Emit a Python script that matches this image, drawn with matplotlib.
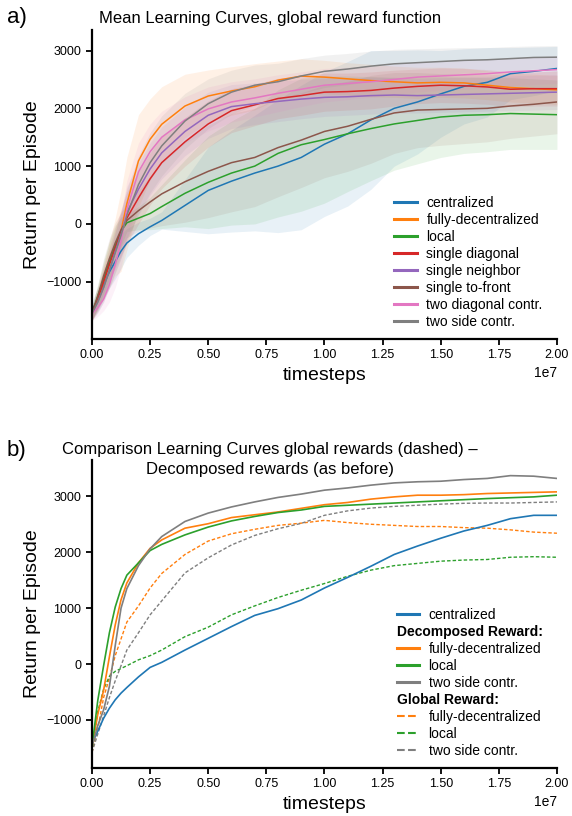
import numpy as np
import matplotlib
matplotlib.use("Agg")
import matplotlib.pyplot as plt
from matplotlib.lines import Line2D

plt.rcParams["font.family"] = ["Liberation Sans", "DejaVu Sans"]

# timesteps (in units of 1e7)
t = [0, 0.025, 0.05, 0.075, 0.1, 0.125, 0.15, 0.2, 0.25, 0.3, 0.4, 0.5, 0.6, 0.7,
     0.8, 0.9, 1.0, 1.1, 1.2, 1.3, 1.4, 1.5, 1.6, 1.7, 1.8, 1.9, 2.0]

# ---- a) mean learning curves, global reward function ----
names_a = ["centralized", "fully-decentralized", "local", "single diagonal",
           "single neighbor", "single to-front", "two diagonal contr.", "two side contr."]

centralized = [-1500, -1300, -1050, -830, -650, -470, -330, -170, -50, 60, 320, 580, 740, 880,
               1000, 1150, 1380, 1560, 1800, 2000, 2110, 2250, 2380, 2450, 2600, 2640, 2690]
fully_dec = [-1550, -1300, -1000, -700, -400, -120, 350, 1090, 1465, 1724, 2040, 2213, 2300, 2373,
             2488, 2557, 2540, 2510, 2480, 2460, 2440, 2450, 2440, 2400, 2360, 2340, 2320]
local = [-1550, -1250, -950, -650, -380, -130, 20, 100, 180, 300, 530, 720, 880, 1000,
         1220, 1370, 1460, 1560, 1650, 1730, 1790, 1850, 1880, 1890, 1910, 1900, 1890]
single_diag = [-1550, -1300, -1000, -700, -420, -150, 100, 450, 780, 1060, 1420, 1730, 1960, 2060,
               2170, 2220, 2280, 2290, 2310, 2350, 2380, 2400, 2390, 2370, 2330, 2340, 2340]
single_neigh = [-1550, -1350, -1100, -800, -480, -180, 200, 600, 950, 1230, 1600, 1880, 2030, 2080,
                2120, 2160, 2190, 2200, 2220, 2230, 2220, 2230, 2240, 2250, 2260, 2270, 2280]
single_front = [-1550, -1250, -900, -600, -330, -100, 60, 230, 380, 520, 730, 910, 1060, 1150,
                1320, 1450, 1600, 1690, 1810, 1920, 1970, 1980, 1990, 2000, 2040, 2070, 2110]
two_diag = [-1550, -1450, -1300, -1050, -700, -300, 250, 900, 1250, 1500, 1800, 1990, 2110, 2180,
            2260, 2330, 2400, 2430, 2460, 2500, 2540, 2560, 2580, 2600, 2630, 2650, 2670]
two_side = [-1550, -1350, -1100, -800, -500, -200, 150, 680, 1060, 1350, 1780, 2080, 2280, 2400,
            2460, 2560, 2640, 2680, 2730, 2770, 2790, 2810, 2830, 2840, 2860, 2880, 2885]

# standard deviation bands
centralized_sd = [150, 200, 250, 280, 300, 300, 250, 200, 150, 150, 450, 750, 880, 1000,
                  1150, 1250, 1250, 1250, 1200, 1000, 900, 750, 650, 600, 450, 420, 380]
fully_dec_sd = [120, 200, 300, 400, 500, 700, 800, 800, 700, 650, 550, 450, 420, 400,
                330, 300, 290, 280, 280, 270, 270, 260, 260, 250, 250, 250, 250]
local_sd = [120, 200, 300, 350, 350, 250, 150, 200, 280, 380, 580, 800, 900, 1000,
            1100, 1150, 1100, 1000, 900, 800, 750, 700, 660, 640, 620, 610, 600]
single_diag_sd = [120, 180, 250, 300, 350, 400, 450, 450, 450, 450, 420, 400, 380, 360,
                  350, 340, 330, 320, 320, 310, 300, 300, 300, 300, 300, 300, 300]
single_neigh_sd = [120, 180, 250, 300, 350, 400, 450, 450, 450, 450, 420, 400, 380, 360,
                   350, 340, 330, 320, 320, 310, 300, 300, 300, 300, 300, 300, 300]
single_front_sd = [120, 200, 300, 350, 350, 300, 300, 350, 450, 550, 700, 800, 850, 850,
                   850, 820, 800, 780, 760, 700, 650, 620, 600, 580, 560, 550, 550]
two_diag_sd = [120, 150, 200, 300, 400, 450, 500, 500, 480, 450, 400, 380, 350, 330,
               320, 300, 290, 280, 270, 260, 260, 250, 250, 250, 240, 240, 240]
two_side_sd = [120, 180, 250, 300, 350, 400, 450, 500, 520, 520, 480, 430, 380, 350,
               320, 300, 280, 270, 260, 250, 240, 230, 220, 210, 210, 200, 200]

# ---- b) global (dashed) vs decomposed (solid) rewards ----
centralized_b = [-1420, -1200, -970, -790, -640, -520, -420, -230, -60, 30, 250, 460, 670, 870,
                 990, 1145, 1360, 1550, 1750, 1960, 2110, 2250, 2380, 2480, 2600, 2660, 2660]
fully_dec_dec = [-1480, -900, -470, 130, 700, 1150, 1450, 1810, 2070, 2220, 2430, 2510, 2620, 2670,
                 2720, 2785, 2850, 2890, 2950, 2990, 3020, 3020, 3030, 3050, 3060, 3070, 3080]
local_dec = [-1480, -650, -30, 560, 1020, 1350, 1590, 1810, 2030, 2140, 2310, 2450, 2560, 2640,
             2710, 2755, 2820, 2840, 2860, 2880, 2900, 2920, 2940, 2960, 2975, 2990, 3020]
two_side_dec = [-1480, -1100, -820, -400, 330, 1000, 1350, 1760, 2060, 2280, 2550, 2700, 2810, 2900,
                2980, 3040, 3110, 3150, 3200, 3240, 3260, 3270, 3300, 3320, 3370, 3360, 3320]
fully_dec_glob = [-1580, -1150, -600, -250, 150, 450, 750, 1040, 1360, 1620, 1960, 2200, 2330, 2410,
                  2480, 2520, 2570, 2530, 2500, 2480, 2460, 2460, 2440, 2430, 2400, 2360, 2340]
local_glob = [-1580, -850, -450, -220, -130, -80, -30, 75, 150, 250, 490, 660, 880, 1040,
              1190, 1320, 1440, 1570, 1680, 1760, 1800, 1840, 1860, 1870, 1910, 1920, 1910]
two_side_glob = [-1580, -1250, -930, -600, -300, -30, 250, 560, 880, 1130, 1630, 1900, 2130, 2300,
                 2420, 2516, 2660, 2740, 2790, 2820, 2840, 2860, 2875, 2880, 2880, 2890, 2900]

colors = ["#1f77b4", "#ff7f0e", "#2ca02c", "#d62728", "#9467bd", "#8c564b", "#e377c2", "#7f7f7f"]

steps = np.array(t) * 1e7

fig = plt.figure(figsize=(5.72, 8.16), dpi=100)
ax_a = fig.add_axes([0.1608, 0.5846, 0.8129, 0.3787])
ax_b = fig.add_axes([0.1608, 0.0588, 0.8129, 0.3775])


def style_axes(ax):
    for s in ["top", "right"]:
        ax.spines[s].set_visible(False)
    for s in ["left", "bottom"]:
        ax.spines[s].set_linewidth(1.6)
    ax.tick_params(direction="out", length=4, width=1.3, labelsize=9)
    ax.set_xlim(0, 2e7)
    ax.set_xlabel("timesteps", fontsize=14)
    ax.set_ylabel("Return per Episode", fontsize=14)


# a)
means = [centralized, fully_dec, local, single_diag, single_neigh, single_front, two_diag, two_side]
sds = [centralized_sd, fully_dec_sd, local_sd, single_diag_sd, single_neigh_sd, single_front_sd,
       two_diag_sd, two_side_sd]
for name, m, s, c in zip(names_a, means, sds, colors):
    m = np.array(m, dtype=float)
    s = np.array(s, dtype=float)
    ax_a.fill_between(steps, m - s, m + s, color=c, alpha=0.1, lw=0)
for name, m, c in zip(names_a, means, colors):
    ax_a.plot(steps, m, color=c, lw=1.1, label=name)
style_axes(ax_a)
ax_a.set_ylim(-1990, 3356)
ax_a.set_title("Mean Learning Curves, global reward function", fontsize=12, x=0.383, pad=5)
leg = ax_a.legend(loc="lower right", bbox_to_anchor=(0.99, 0), frameon=False, fontsize=10,
                  labelspacing=0.22, handlelength=1.6, handletextpad=0.7, borderaxespad=0.3)
for h in leg.legend_handles:
    h.set_linewidth(2.2)

# b)
ax_b.plot(steps, fully_dec_glob, color=colors[1], lw=1.0, ls="--", dashes=(2.5, 1.5))
ax_b.plot(steps, local_glob, color=colors[2], lw=1.0, ls="--", dashes=(2.5, 1.5))
ax_b.plot(steps, two_side_glob, color=colors[7], lw=1.0, ls="--", dashes=(2.5, 1.5))
ax_b.plot(steps, centralized_b, color=colors[0], lw=1.2)
ax_b.plot(steps, fully_dec_dec, color=colors[1], lw=1.2)
ax_b.plot(steps, local_dec, color=colors[2], lw=1.2)
ax_b.plot(steps, two_side_dec, color=colors[7], lw=1.2)
style_axes(ax_b)
ax_b.set_ylim(-1860, 3650)
ax_b.set_title("Comparison Learning Curves global rewards (dashed) \u2013\nDecomposed rewards (as before)",
               fontsize=12, x=0.383, y=0.945, va="bottom", pad=0, linespacing=1.4)

headers = ["Decomposed Reward:", "Global Reward:"]
handles = [
    Line2D([], [], color=colors[0], lw=2.2),
    Line2D([], [], alpha=0),
    Line2D([], [], color=colors[1], lw=2.2),
    Line2D([], [], color=colors[2], lw=2.2),
    Line2D([], [], color=colors[7], lw=2.2),
    Line2D([], [], alpha=0),
    Line2D([], [], color=colors[1], lw=1.5, ls="--"),
    Line2D([], [], color=colors[2], lw=1.5, ls="--"),
    Line2D([], [], color=colors[7], lw=1.5, ls="--"),
]
labels = ["centralized", headers[0], "fully-decentralized", "local", "two side contr.",
          headers[1], "fully-decentralized", "local", "two side contr."]
leg_b = ax_b.legend(handles, labels, loc="lower right", bbox_to_anchor=(0.99, 0), frameon=False,
                    fontsize=10, labelspacing=0.22, handlelength=1.6, handletextpad=0.7,
                    borderaxespad=0.3)
for col in leg_b._legend_handle_box.get_children():
    for row in col.get_children():
        da, ta = row.get_children()
        if ta.get_text() in headers:
            da.set_visible(False)
            ta._text.set_fontweight("bold")

fig.text(0.012, 1 - 17 / 816, "a)", fontsize=16, va="center")
fig.text(0.012, 1 - 450 / 816, "b)", fontsize=16, va="center")

fig.savefig("out.png", dpi=100)
